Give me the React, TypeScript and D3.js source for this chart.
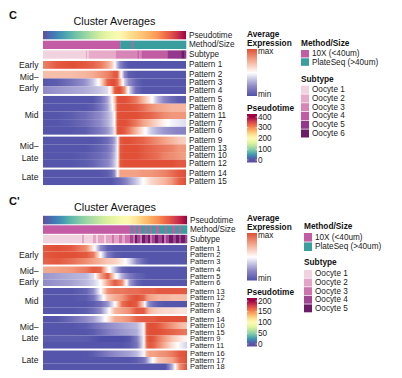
import React from "react";
import * as d3 from "d3";

const FONT = "'Liberation Sans', Arial, Helvetica, sans-serif";

// ---------------- Panel C (top) data ----------------
const topGroupLabels = [["Early"], ["Mid–", "Early"], ["Mid"], ["Mid–", "Late"], ["Late"]];
const topGroupPatterns = [
  ["Pattern 1"],
  ["Pattern 2", "Pattern 3", "Pattern 4"],
  ["Pattern 5", "Pattern 8", "Pattern 11", "Pattern 7", "Pattern 6"],
  ["Pattern 9", "Pattern 13", "Pattern 10", "Pattern 12"],
  ["Pattern 14", "Pattern 15"],
];
// column positions (fraction of cells ordered by pseudotime)
const topCols = [0, 0.1, 0.2, 0.3, 0.35, 0.4, 0.45, 0.48, 0.5, 0.52, 0.54, 0.57, 0.6, 0.65, 0.7, 0.75, 0.8, 0.85, 0.9, 0.95, 1.0];
const topExpr = [
  [0.65, 0.85, 0.9, 0.85, 0.8, 0.7, 0.5, 0.3, 0.05, -0.3, -0.55, -0.75, -0.85, -0.85, -0.85, -0.85, -0.85, -0.85, -0.85, -0.85, -0.85],
  [0.35, 0.35, 0.35, 0.4, 0.45, 0.55, 0.65, 0.75, 0.85, 0.85, 0.2, -0.5, -0.8, -0.85, -0.85, -0.85, -0.85, -0.85, -0.85, -0.85, -0.85],
  [-0.85, -0.8, -0.65, -0.45, -0.25, 0.1, 0.8, 0.9, 0.9, 0.8, 0.4, -0.2, -0.5, -0.75, -0.85, -0.85, -0.85, -0.85, -0.85, -0.85, -0.85],
  [-0.5, -0.45, -0.4, -0.35, -0.3, -0.25, -0.15, 0.2, 0.8, 0.9, 0.9, 0.6, -0.1, -0.7, -0.85, -0.85, -0.85, -0.85, -0.85, -0.85, -0.85],
  [-0.85, -0.85, -0.85, -0.85, -0.85, -0.7, -0.4, -0.05, 0.3, 0.85, 0.9, 0.9, 0.85, 0.7, 0.4, 0.1, -0.3, -0.55, -0.7, -0.8, -0.8],
  [-0.85, -0.85, -0.85, -0.85, -0.8, -0.65, -0.4, -0.1, 0.2, 0.85, 0.9, 0.9, 0.9, 0.85, 0.75, 0.6, 0.5, 0.45, 0.4, 0.4, 0.4],
  [-0.85, -0.85, -0.8, -0.7, -0.6, -0.5, -0.35, -0.2, 0.0, 0.85, 0.9, 0.9, 0.9, 0.9, 0.85, 0.8, 0.7, 0.6, 0.55, 0.55, 0.55],
  [-0.85, -0.85, -0.8, -0.7, -0.6, -0.5, -0.35, -0.2, 0.0, 0.85, 0.9, 0.9, 0.85, 0.7, 0.5, 0.35, 0.2, 0.05, -0.05, -0.1, -0.15],
  [-0.85, -0.85, -0.85, -0.8, -0.7, -0.6, -0.45, -0.3, -0.1, 0.85, 0.9, 0.85, 0.7, 0.4, 0.1, -0.2, -0.35, -0.45, -0.5, -0.55, -0.55],
  [-0.85, -0.85, -0.85, -0.85, -0.85, -0.8, -0.7, -0.55, -0.4, -0.1, 0.85, 0.9, 0.9, 0.85, 0.8, 0.7, 0.6, 0.5, 0.4, 0.3, 0.25],
  [-0.85, -0.85, -0.85, -0.85, -0.8, -0.75, -0.65, -0.5, -0.35, -0.05, 0.85, 0.9, 0.9, 0.9, 0.85, 0.8, 0.75, 0.7, 0.65, 0.55, 0.55],
  [-0.85, -0.85, -0.85, -0.8, -0.75, -0.7, -0.6, -0.45, -0.3, -0.05, 0.85, 0.9, 0.9, 0.9, 0.85, 0.8, 0.75, 0.65, 0.6, 0.55, 0.5],
  [-0.85, -0.85, -0.85, -0.8, -0.75, -0.65, -0.55, -0.4, -0.25, -0.05, 0.85, 0.9, 0.9, 0.9, 0.9, 0.9, 0.9, 0.9, 0.9, 0.85, 0.85],
  [-0.85, -0.85, -0.85, -0.85, -0.85, -0.85, -0.8, -0.7, -0.5, -0.05, 0.5, 0.5, 0.5, 0.5, 0.55, 0.55, 0.6, 0.65, 0.75, 0.85, 0.9],
  [-0.85, -0.85, -0.85, -0.85, -0.85, -0.85, -0.85, -0.85, -0.8, -0.75, -0.7, -0.6, -0.45, -0.25, 0.0, 0.2, 0.3, 0.4, 0.55, 0.8, 0.9],
];
const topPseudoCols = [0, 0.1, 0.2, 0.3, 0.4, 0.5, 0.6, 0.7, 0.8, 0.9, 1.0];
const topPseudo = [0, 40, 75, 110, 150, 185, 235, 265, 295, 345, 400];
const topPseudoTicks = [0, 100, 200, 300, 400];
const topMethodRuns: [string, number][] = [["10X", 54], ["PlateSeq", 8], ["10X", 1], ["PlateSeq", 37]];
const topSubtypeRuns: [number, number][] = [
  [1, 30], [2, 1], [1, 1], [2, 19], [3, 15], [4, 1], [3, 2], [4, 18], [5, 10], [6, 2], [5, 1],
];
const topSubtypeNames = ["Oocyte 1", "Oocyte 2", "Oocyte 3", "Oocyte 4", "Oocyte 5", "Oocyte 6"];
const topSubtypeColors = ["#f1d2df", "#e7aac8", "#d785b6", "#c15ca3", "#94388b", "#6a1c66"];

// ---------------- Panel C' (bottom) data ----------------
const botGroupLabels = [["Early"], ["Mid–", "Early"], ["Mid"], ["Mid–", "Late"], ["Late"]];
const botGroupPatterns = [
  ["Pattern 1", "Pattern 2", "Pattern 3"],
  ["Pattern 4", "Pattern 5", "Pattern 6"],
  ["Pattern 13", "Pattern 12", "Pattern 7", "Pattern 8"],
  ["Pattern 14", "Pattern 10", "Pattern 15", "Pattern 9", "Pattern 11"],
  ["Pattern 16", "Pattern 17", "Pattern 18"],
];
const botCols = [0, 0.1, 0.2, 0.3, 0.35, 0.4, 0.45, 0.5, 0.55, 0.6, 0.65, 0.7, 0.72, 0.74, 0.77, 0.8, 0.85, 0.9, 0.95, 1.0];
const botExpr = [
  [0.85, 0.9, 0.85, 0.6, 0.1, -0.5, -0.8, -0.85, -0.85, -0.85, -0.85, -0.85, -0.85, -0.85, -0.85, -0.85, -0.85, -0.85, -0.85, -0.85],
  [0.85, 0.9, 0.9, 0.85, 0.7, 0.0, -0.6, -0.8, -0.85, -0.85, -0.85, -0.85, -0.85, -0.85, -0.85, -0.85, -0.85, -0.85, -0.85, -0.85],
  [0.8, 0.85, 0.75, 0.6, 0.5, 0.4, 0.3, 0.25, 0.1, -0.15, -0.5, -0.75, -0.8, -0.85, -0.85, -0.85, -0.85, -0.85, -0.85, -0.85],
  [0.45, 0.5, 0.55, 0.7, 0.85, 0.8, 0.1, -0.3, -0.75, -0.85, -0.85, -0.85, -0.85, -0.85, -0.85, -0.85, -0.85, -0.85, -0.85, -0.85],
  [-0.45, -0.4, -0.35, -0.3, -0.15, 0.5, 0.85, 0.1, -0.35, -0.6, -0.75, -0.8, -0.85, -0.85, -0.85, -0.85, -0.85, -0.85, -0.85, -0.85],
  [-0.5, -0.45, -0.4, -0.3, -0.2, 0.0, 0.5, 0.85, 0.6, -0.4, -0.75, -0.85, -0.85, -0.85, -0.85, -0.85, -0.85, -0.85, -0.85, -0.85],
  [-0.85, -0.85, -0.85, -0.75, -0.5, 0.0, 0.6, 0.7, 0.7, 0.75, 0.75, 0.8, 0.8, 0.8, 0.8, 0.85, 0.85, 0.85, 0.85, 0.85],
  [-0.85, -0.85, -0.85, -0.8, -0.65, -0.2, 0.3, 0.45, 0.55, 0.8, 0.9, 0.8, 0.6, 0.5, 0.45, 0.4, 0.4, 0.35, 0.35, 0.35],
  [-0.85, -0.85, -0.85, -0.85, -0.8, -0.7, -0.45, 0.0, 0.75, 0.9, 0.85, 0.2, -0.3, -0.55, -0.7, -0.8, -0.85, -0.85, -0.85, -0.85],
  [-0.85, -0.85, -0.85, -0.8, -0.7, -0.5, -0.1, 0.4, 0.5, 0.6, 0.85, 0.85, 0.6, 0.4, 0.3, 0.25, 0.2, 0.2, 0.15, 0.15],
  [-0.85, -0.85, -0.7, -0.5, -0.4, -0.2, 0.1, 0.45, 0.5, 0.6, 0.8, 0.85, 0.85, 0.85, 0.85, 0.9, 0.9, 0.9, 0.9, 0.9],
  [-0.85, -0.85, -0.85, -0.8, -0.7, -0.6, -0.5, -0.45, -0.4, -0.35, -0.3, -0.05, 0.85, 0.9, 0.9, 0.85, 0.7, 0.55, 0.4, 0.3],
  [-0.85, -0.85, -0.85, -0.85, -0.8, -0.7, -0.6, -0.5, -0.45, -0.4, -0.35, -0.05, 0.85, 0.9, 0.9, 0.9, 0.85, 0.8, 0.75, 0.7],
  [-0.8, -0.8, -0.8, -0.8, -0.85, -0.9, -0.9, -0.9, -0.9, -0.85, -0.6, -0.05, 0.8, 0.9, 0.85, 0.7, 0.5, 0.3, 0.15, 0.05],
  [-0.85, -0.85, -0.85, -0.85, -0.85, -0.85, -0.85, -0.85, -0.85, -0.8, -0.65, -0.05, 0.75, 0.85, 0.8, 0.65, 0.4, 0.15, -0.05, -0.2],
  [-0.85, -0.85, -0.85, -0.85, -0.8, -0.7, -0.6, -0.5, -0.45, -0.4, -0.3, -0.05, 0.4, 0.5, 0.5, 0.55, 0.6, 0.7, 0.85, 0.9],
  [-0.85, -0.85, -0.85, -0.85, -0.85, -0.85, -0.85, -0.85, -0.85, -0.85, -0.8, -0.65, -0.45, -0.2, 0.05, 0.3, 0.4, 0.5, 0.8, 0.9],
  [-0.85, -0.85, -0.85, -0.85, -0.85, -0.85, -0.85, -0.85, -0.85, -0.85, -0.85, -0.85, -0.85, -0.85, -0.85, -0.85, -0.85, -0.3, 0.6, 0.9],
];
const botPseudoCols = [0, 0.1, 0.2, 0.3, 0.4, 0.5, 0.6, 0.7, 0.8, 0.9, 1.0];
const botPseudo = [0, 18, 38, 55, 70, 85, 105, 130, 150, 175, 200];
const botPseudoTicks = [0, 50, 100, 150, 200];
const botMethodRuns: [string, number][] = [
  ["10X", 88], ["PlateSeq", 2], ["10X", 3], ["PlateSeq", 2], ["10X", 3], ["PlateSeq", 4], ["10X", 2],
  ["PlateSeq", 3], ["10X", 2], ["PlateSeq", 4], ["10X", 3], ["PlateSeq", 6], ["10X", 2], ["PlateSeq", 5],
  ["10X", 3], ["PlateSeq", 4], ["10X", 2], ["PlateSeq", 6],
];
const botSubtypeRuns: [number, number][] = [
  [1, 39], [2, 2], [1, 9], [2, 3], [1, 2], [2, 6], [1, 2], [2, 6], [3, 2], [2, 5], [3, 3], [2, 3], [3, 5],
  [4, 3], [3, 2], [5, 2], [4, 3], [3, 2], [5, 3], [4, 3], [5, 2], [3, 2], [4, 3], [5, 3], [4, 4], [5, 2],
  [3, 2], [4, 3], [5, 4], [4, 3], [5, 3], [4, 2], [5, 4], [4, 2],
];
const botSubtypeNames = ["Oocyte 1", "Oocyte 2", "Oocyte 3", "Oocyte 4", "Oocyte 5"];
const botSubtypeColors = ["#f1d2df", "#e3a4c5", "#cd74ae", "#a14592", "#6a1c66"];

const methodNames = ["10X", "PlateSeq"];
const methodLabels = ["10X (<40um)", "PlateSeq (>40um)"];
const methodColors = ["#c35ba5", "#3a9d9e"];

// ---------------- colour scales ----------------
const exprColor = d3
  .scaleLinear<string>()
  .domain([-1, -0.5, 0, 0.5, 1])
  .range(["#3c3f9f", "#8f8ac8", "#ffffff", "#f3a286", "#dc3a23"])
  .clamp(true);

function gradStops(cols: number[], vals: number[], color: (v: number) => string, sub = 8) {
  const out: { off: number; c: string }[] = [];
  for (let i = 0; i < cols.length - 1; i++) {
    const iv = d3.interpolateNumber(vals[i], vals[i + 1]);
    for (let k = 0; k < sub; k++) {
      const t = k / sub;
      out.push({ off: cols[i] + (cols[i + 1] - cols[i]) * t, c: color(iv(t)) });
    }
  }
  out.push({ off: cols[cols.length - 1], c: color(vals[vals.length - 1]) });
  return out;
}

type Cfg = {
  id: string;
  tag: string;
  tagY: number;
  titleY: number;
  x0: number;
  x1: number;
  annoY: number;
  annoH: number;
  annoStep: number;
  rowsY: number;
  rowH: number;
  gap: number;
  labelFs: number;
  groupLabels: string[][];
  groupPatterns: string[][];
  cols: number[];
  expr: number[][];
  pseudoCols: number[];
  pseudo: number[];
  pseudoMax: number;
  pseudoTicks: number[];
  methodRuns: [string, number][];
  subtypeRuns: [number, number][];
  subtypeNames: string[];
  subtypeColors: string[];
  leg: {
    x: number;
    avgY: number;
    exprTop: number;
    exprBot: number;
    pseTitleY: number;
    pseTop: number;
    pseBot: number;
    tickTop: number;
    tickBot: number;
    mx: number;
    mTitleY: number;
    mY0: number;
    mStep: number;
    sTitleY: number;
    sY0: number;
    sStep: number;
  };
};

function Panel({ c }: { c: Cfg }) {
  const fs = 8.2;
  const pseudoColor = d3.scaleSequential((t: number) => d3.interpolateSpectral(1 - t)).domain([0, c.pseudoMax]);
  const xFrac = d3.scaleLinear().domain([0, 1]).range([c.x0, c.x1]);
  const W = c.x1 - c.x0;

  const rows: { name: string; y: number; vals: number[] }[] = [];
  const groups: { labels: string[]; y0: number; y1: number }[] = [];
  let idx = 0;
  c.groupPatterns.forEach((g, gi) => {
    const gy0 = c.rowsY + gi * c.gap + idx * c.rowH;
    g.forEach((name) => {
      rows.push({ name, y: c.rowsY + gi * c.gap + idx * c.rowH, vals: c.expr[idx] });
      idx++;
    });
    groups.push({ labels: c.groupLabels[gi], y0: gy0, y1: c.rowsY + gi * c.gap + idx * c.rowH });
  });

  const nMethod = d3.sum(c.methodRuns, (r) => r[1]);
  const mCell = d3.scaleLinear().domain([0, nMethod]).range([c.x0, c.x1]);
  let acc = 0;
  const mRects = c.methodRuns.map(([m, n]) => {
    const r = { x: mCell(acc), w: mCell(acc + n) - mCell(acc), col: methodColors[methodNames.indexOf(m)] };
    acc += n;
    return r;
  });
  const nSub = d3.sum(c.subtypeRuns, (r) => r[1]);
  const sCell = d3.scaleLinear().domain([0, nSub]).range([c.x0, c.x1]);
  acc = 0;
  const sRects = c.subtypeRuns.map(([s, n]) => {
    const r = { x: sCell(acc), w: sCell(acc + n) - sCell(acc), col: c.subtypeColors[s - 1] };
    acc += n;
    return r;
  });

  const L = c.leg;
  const tickY = d3.scaleLinear().domain([0, c.pseudoMax]).range([L.tickBot, L.tickTop]);
  const exprLegendVals = d3.range(0, 21).map((i) => -0.88 + (1.78 * i) / 20);

  const annoNames = ["Pseudotime", "Method/Size", "Subtype"];
  const textProps = { fontFamily: FONT, fontSize: fs, fill: "#1a1a1a" };
  const rowTextProps = { fontFamily: FONT, fontSize: c.labelFs, fill: "#1a1a1a" };

  return (
    <g>
      <defs>
        {rows.map((r, i) => (
          <linearGradient key={i} id={`${c.id}-row-${i}`} x1="0" x2="1" y1="0" y2="0">
            {gradStops(c.cols, r.vals, exprColor).map((s, k) => (
              <stop key={k} offset={s.off} stopColor={s.c} />
            ))}
          </linearGradient>
        ))}
        <linearGradient id={`${c.id}-pse`} x1="0" x2="1" y1="0" y2="0">
          {gradStops(c.pseudoCols, c.pseudo, (v) => pseudoColor(v)).map((s, k) => (
            <stop key={k} offset={s.off} stopColor={s.c} />
          ))}
        </linearGradient>
        <linearGradient id={`${c.id}-exprleg`} x1="0" x2="0" y1="1" y2="0">
          {exprLegendVals.map((v, k) => (
            <stop key={k} offset={k / 20} stopColor={exprColor(v)} />
          ))}
        </linearGradient>
        <linearGradient
          id={`${c.id}-pseleg`}
          gradientUnits="userSpaceOnUse"
          x1="0"
          x2="0"
          y1={L.tickBot}
          y2={L.tickTop}
        >
          {d3.range(0, 21).map((k) => (
            <stop key={k} offset={k / 20} stopColor={pseudoColor((c.pseudoMax * k) / 20)} />
          ))}
        </linearGradient>
      </defs>

      <text x={9} y={c.tagY} fontFamily={FONT} fontSize={11} fontWeight="bold" fill="#111">
        {c.tag}
      </text>
      <text x={(c.x0 + c.x1) / 2} y={c.titleY} textAnchor="middle" fontFamily={FONT} fontSize={10.8} fill="#111">
        Cluster Averages
      </text>

      {/* annotations */}
      <rect x={c.x0} y={c.annoY} width={W} height={c.annoH} fill={`url(#${c.id}-pse)`} />
      {mRects.map((r, i) => (
        <rect key={i} x={r.x} y={c.annoY + c.annoStep} width={r.w + 0.3} height={c.annoH} fill={r.col} />
      ))}
      {sRects.map((r, i) => (
        <rect key={i} x={r.x} y={c.annoY + 2 * c.annoStep} width={r.w + 0.3} height={c.annoH} fill={r.col} />
      ))}
      {annoNames.map((n, i) => (
        <text key={n} x={c.x1 + 3} y={c.annoY + i * c.annoStep + c.annoH / 2} dominantBaseline="central" {...textProps}>
          {n}
        </text>
      ))}

      {/* heatmap rows */}
      {rows.map((r, i) => (
        <rect key={i} x={xFrac(0)} y={r.y} width={W} height={c.rowH + 0.05} fill={`url(#${c.id}-row-${i})`} />
      ))}
      {rows.map((r, i) => (
        <text key={i} x={c.x1 + 3} y={r.y + c.rowH / 2} dominantBaseline="central" {...rowTextProps}>
          {r.name}
        </text>
      ))}
      {groups.map((g, gi) => {
        const cy = (g.y0 + g.y1) / 2;
        const n = g.labels.length;
        return g.labels.map((t, k) => (
          <text
            key={`${gi}-${k}`}
            x={38.5}
            y={cy + (k - (n - 1) / 2) * 11.5}
            dominantBaseline="central"
            textAnchor="end"
            fontFamily={FONT}
            fontSize={8.6}
            fill="#1a1a1a"
          >
            {t}
          </text>
        ));
      })}

      {/* legends */}
      <text x={L.x} y={L.avgY} fontFamily={FONT} fontSize={8.3} fontWeight="bold" fill="#111">
        Average
      </text>
      <text x={L.x} y={L.avgY + 8.5} fontFamily={FONT} fontSize={8.3} fontWeight="bold" fill="#111">
        Expression
      </text>
      <rect x={L.x} y={L.exprTop} width={10} height={L.exprBot - L.exprTop} fill={`url(#${c.id}-exprleg)`} />
      <text x={L.x + 11} y={L.exprTop + 2.5} dominantBaseline="central" {...textProps}>
        max
      </text>
      <text x={L.x + 11} y={L.exprBot - 2} dominantBaseline="central" {...textProps}>
        min
      </text>

      <text x={L.x} y={L.pseTitleY} fontFamily={FONT} fontSize={8.3} fontWeight="bold" fill="#111">
        Pseudotime
      </text>
      <rect x={L.x} y={L.pseTop} width={10} height={L.pseBot - L.pseTop} fill={`url(#${c.id}-pseleg)`} />
      {c.pseudoTicks.map((t) => (
        <g key={t}>
          <line x1={L.x} x2={L.x + 1.5} y1={tickY(t)} y2={tickY(t)} stroke="#fff" strokeWidth={0.6} />
          <line x1={L.x + 8.5} x2={L.x + 10} y1={tickY(t)} y2={tickY(t)} stroke="#fff" strokeWidth={0.6} />
          <text x={L.x + 11} y={tickY(t)} dominantBaseline="central" {...textProps}>
            {t}
          </text>
        </g>
      ))}

      <text x={L.mx} y={L.mTitleY} fontFamily={FONT} fontSize={8.3} fontWeight="bold" fill="#111">
        Method/Size
      </text>
      {methodLabels.map((m, i) => (
        <g key={m}>
          <rect x={L.mx} y={L.mY0 + i * L.mStep} width={8} height={L.mStep - 0.8} fill={methodColors[i]} />
          <text x={L.mx + 11} y={L.mY0 + i * L.mStep + (L.mStep - 0.8) / 2} dominantBaseline="central" {...textProps}>
            {m}
          </text>
        </g>
      ))}
      <text x={L.mx} y={L.sTitleY} fontFamily={FONT} fontSize={8.3} fontWeight="bold" fill="#111">
        Subtype
      </text>
      {c.subtypeNames.map((s, i) => (
        <g key={s}>
          <rect x={L.mx} y={L.sY0 + i * L.sStep} width={8} height={L.sStep - 0.7} fill={c.subtypeColors[i]} />
          <text x={L.mx + 11} y={L.sY0 + i * L.sStep + (L.sStep - 0.7) / 2} dominantBaseline="central" {...textProps}>
            {s}
          </text>
        </g>
      ))}
    </g>
  );
}

const topCfg: Cfg = {
  id: "c1",
  tag: "C",
  tagY: 19,
  titleY: 25.2,
  x0: 43,
  x1: 186,
  annoY: 31,
  annoH: 8.3,
  annoStep: 9.7,
  rowsY: 61,
  rowH: (185 - 61 - 8) / 15,
  gap: 2,
  labelFs: 8.2,
  groupLabels: topGroupLabels,
  groupPatterns: topGroupPatterns,
  cols: topCols,
  expr: topExpr,
  pseudoCols: topPseudoCols,
  pseudo: topPseudo,
  pseudoMax: 400,
  pseudoTicks: topPseudoTicks,
  methodRuns: topMethodRuns,
  subtypeRuns: topSubtypeRuns,
  subtypeNames: topSubtypeNames,
  subtypeColors: topSubtypeColors,
  leg: {
    x: 247,
    avgY: 37,
    exprTop: 49,
    exprBot: 96,
    pseTitleY: 111,
    pseTop: 114,
    pseBot: 162.5,
    tickTop: 117,
    tickBot: 160,
    mx: 301,
    mTitleY: 46,
    mY0: 50,
    mStep: 8.3,
    sTitleY: 82,
    sY0: 85.7,
    sStep: 8.75,
  },
};

const botCfg: Cfg = {
  id: "c2",
  tag: "C'",
  tagY: 205,
  titleY: 211,
  x0: 43,
  x1: 187,
  annoY: 215.8,
  annoH: 8.5,
  annoStep: 9.5,
  rowsY: 245,
  rowH: (370 - 245 - 8) / 18,
  gap: 2,
  labelFs: 7.5,
  groupLabels: botGroupLabels,
  groupPatterns: botGroupPatterns,
  cols: botCols,
  expr: botExpr,
  pseudoCols: botPseudoCols,
  pseudo: botPseudo,
  pseudoMax: 200,
  pseudoTicks: botPseudoTicks,
  methodRuns: botMethodRuns,
  subtypeRuns: botSubtypeRuns,
  subtypeNames: botSubtypeNames,
  subtypeColors: botSubtypeColors,
  leg: {
    x: 247,
    avgY: 221,
    exprTop: 233,
    exprBot: 280.5,
    pseTitleY: 295,
    pseTop: 298,
    pseBot: 346.5,
    tickTop: 301,
    tickBot: 344,
    mx: 304,
    mTitleY: 229,
    mY0: 233,
    mStep: 9.4,
    sTitleY: 265.3,
    sY0: 270,
    sStep: 8.6,
  },
};

export default function App() {
  return (
    <svg
      width={402}
      height={378}
      viewBox="0 0 402 378"
      style={{ position: "absolute", left: 0, top: 0, background: "#fff" }}
    >
      <rect width={402} height={378} fill="#fff" />
      <Panel c={topCfg} />
      <Panel c={botCfg} />
    </svg>
  );
}
